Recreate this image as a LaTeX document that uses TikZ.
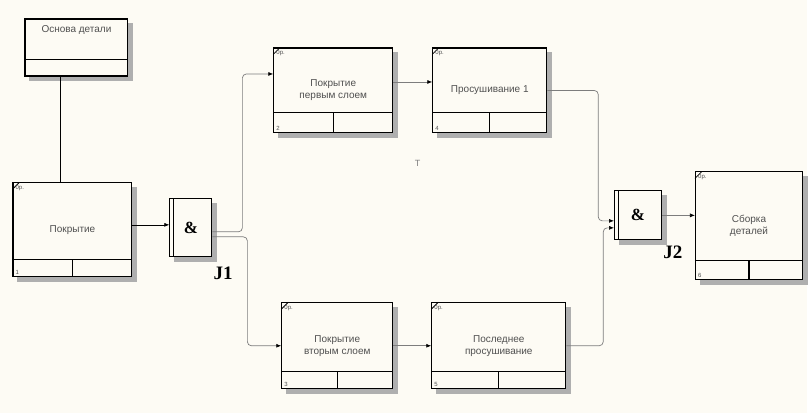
\documentclass[tikz,border=0pt]{standalone}
\usepackage{fontspec}
\setmainfont{Liberation Sans}
\newfontfamily\jfont{Liberation Serif}
\usepackage{tikz}
\usepackage{xcolor}
\definecolor{Paper}{RGB}{253,251,244}
\definecolor{TextGray}{RGB}{80,80,80}
\definecolor{LineGray}{RGB}{125,125,125}
\definecolor{ShadowGray}{RGB}{175,175,175}
\usetikzlibrary{positioning,arrows.meta,backgrounds}

\begin{document}
\begin{tikzpicture}[x=1pt, y=-1pt,
    uow/.style={rectangle, draw=black, line width=1.1pt, fill=Paper, align=center,
              text=TextGray, font=\fontsize{10}{12}\selectfont, inner sep=1pt},
    jn/.style={rectangle, draw=black, line width=1.1pt, fill=Paper,
              font=\jfont\bfseries\fontsize{17}{17}\selectfont},
    jl/.style={font=\jfont\bfseries\fontsize{19}{19}\selectfont, inner sep=0pt},
    sm/.style={font=\fontsize{6}{6}\selectfont, text=TextGray, inner sep=0pt},
    a/.style={-{Latex[length=5pt,width=4pt,black]}, line width=0.7pt},
    g/.style={a, draw=LineGray, rounded corners=4pt}
]
    \node[uow, minimum width=103pt, minimum height=57pt, text height=7pt, text depth=36pt] (osn) at (76.5,47.5) {Основа детали};
    \node[uow, minimum width=119pt, minimum height=94pt] (b1) at (72.5,230) {Покрытие};
    \node[jn, minimum width=42pt, minimum height=58pt] (j1) at (191,228) {\&};
    \node[uow, minimum width=119pt, minimum height=85pt] (b2) at (333.5,90.5) {Покрытие\\первым слоем};
    \node[uow, minimum width=114pt, minimum height=85pt, right=39pt of b2] (b4) {Просушивание 1};
    \node[uow, minimum width=111pt, minimum height=86pt] (b3) at (337.5,346) {Покрытие\\вторым слоем};
    \node[uow, minimum width=134pt, minimum height=86pt, right=38pt of b3] (b5) {Последнее\\просушивание};
    \node[jn, minimum width=47pt, minimum height=49pt] (j2) at (638.5,215.5) {\&};
    \node[uow, minimum width=107pt, minimum height=108pt] (b6) at (749.5,226) {Сборка\\деталей};

    \node[jl, below right=9pt and 1pt of j1.south east] (j1l) {J1};
    \node[jl, below right=5pt and 1pt of j2.south east] (j2l) {J2};
    \node[font=\fontsize{9}{9}\selectfont, text=gray, inner sep=0pt] (t) at (418,164) {T};

    % paper and shadows
    \begin{scope}[on background layer]
        \fill[Paper] (0,0) rectangle (808,413);
        \foreach \u in {osn,b1,b2,b3,b4,b5,b6,j1,j2}
            \fill[ShadowGray] ([shift={(5,5)}]\u.north west) rectangle ([shift={(5,5)}]\u.south east);
    \end{scope}
    \useasboundingbox (0,0) rectangle (808,413);

    % bottom strips, corner marks and numbers
    \draw[line width=1.1pt] ([yshift=17pt]osn.south west) -- ([yshift=17pt]osn.south east);
    \foreach \u/\h/\n in {b1/18/1, b2/21/2, b3/18/3, b4/21/4, b5/18/5, b6/20/6} {
        \draw[line width=1.1pt] ([yshift=\h pt]\u.south west) -- ([yshift=\h pt]\u.south east);
        \draw[line width=1.1pt] ([yshift=\h pt]\u.south) -- (\u.south);
        \draw[line width=0.8pt] ([yshift=-7pt]\u.north west) -- ([xshift=7pt]\u.north west);
        \node[sm, anchor=north west] (\u-op) at ([xshift=3pt,yshift=-3pt]\u.north west) {0р.};
        \node[sm, anchor=south west] (\u-nr) at ([xshift=3pt,yshift=3pt]\u.south west) {\n};
    }
    \foreach \j in {j1,j2}
        \draw[line width=0.9pt] ([xshift=4.5pt]\j.north west) -- ([xshift=4.5pt]\j.south west);

    % links
    \draw[line width=0.8pt] ([xshift=-16.5pt]osn.south) -- ([xshift=-16.5pt]osn.south |- b1.north);
    \draw[a] ([yshift=3pt]b1.east |- j1.west) -- ([yshift=3pt]j1.west);
    \draw[g] ([yshift=-4pt]j1.east) -- ++(30,0) |- ([yshift=16.5pt]b2.west);
    \draw[g] ([yshift=-9pt]j1.east) -- ++(35,0) |- (b3.west);
    \draw[g] ([yshift=8.5pt]b2.east) -- ([yshift=8.5pt]b2.east -| b4.west);
    \draw[g] (b3.east) -- (b5.west);
    \draw[g] (b4.east) -- ++(51,0) |- ([yshift=-5.5pt]j2.west);
    \draw[g] (b5.east) -- ++(37,0) |- ([yshift=-12.5pt]j2.west);
    \draw[g] (j2.east) -- (j2.east -| b6.west);
\end{tikzpicture}
\end{document}
